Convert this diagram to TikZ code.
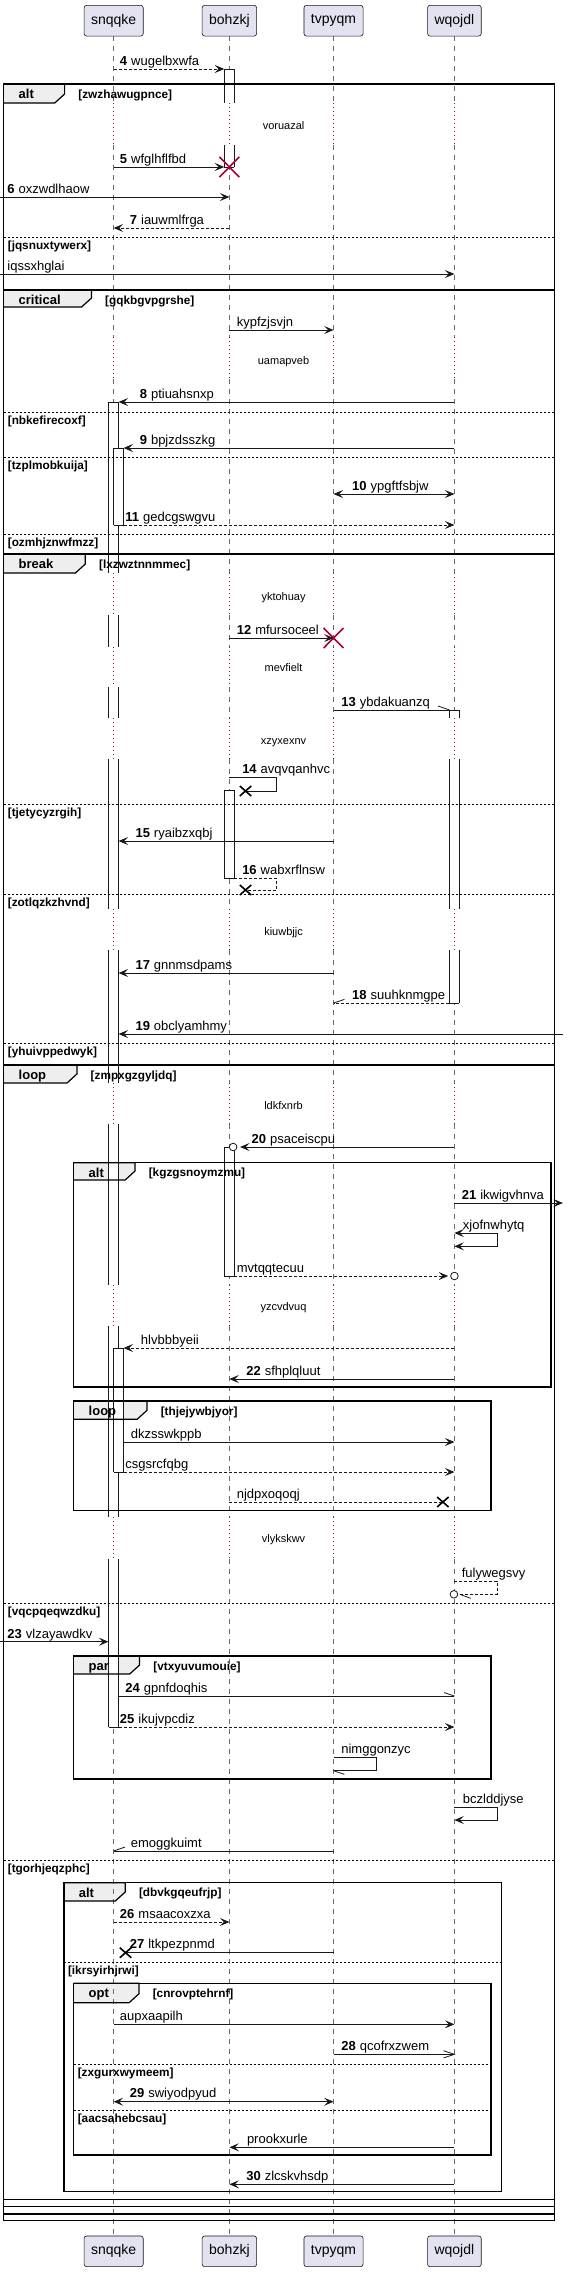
\documentclass[tikz,border=0pt]{standalone}
\usepackage{fontspec}
\setmainfont{Liberation Sans}
\usetikzlibrary{arrows.meta}
\pgfdeclarelayer{back}
\pgfdeclarelayer{tabs}
\pgfsetlayers{back,tabs,main}
\definecolor{pbg}{HTML}{E2E2F0}
\definecolor{ink}{HTML}{181818}
\definecolor{tabbg}{HTML}{EEEEEE}
\definecolor{delayc}{HTML}{8E1538}
\definecolor{xred}{HTML}{A80036}
\definecolor{lifec}{HTML}{6A6A6A}
\newcommand\xS{114.8}
\newcommand\xB{231.7}
\newcommand\xT{336.9}
\newcommand\xW{459}
\newcommand\mnum[1]{\textbf{#1}\hspace{4pt}}
\tikzset{
  part/.style={draw=ink, fill=pbg, rounded corners=2.5pt, minimum height=30.7pt, inner xsep=7pt, inner ysep=0pt, line width=0.6pt, font=\fontsize{14}{16}\selectfont},
  life/.style={draw=lifec, line width=0.6pt, dash pattern=on 5pt off 5pt},
  delayln/.style={draw=delayc, line width=0.7pt, dash pattern=on 1pt off 3pt},
  actln/.style={draw=ink, line width=0.7pt},
  mline/.style={draw=ink, line width=0.8pt},
  arrtip/.style={-{Stealth[length=9.5pt,width=8pt,inset=4pt]}},
  sol/.style={mline, arrtip},
  dsh/.style={mline, arrtip, dash pattern=on 3pt off 2pt},
  dshn/.style={mline, dash pattern=on 3pt off 2pt},
  bidir/.style={mline, {Stealth[length=9.5pt,width=8pt,inset=4pt]}-{Stealth[length=9.5pt,width=8pt,inset=4pt]}},
  lbl/.style={anchor=base west, inner sep=0pt, font=\fontsize{13}{15}\selectfont, text=black},
  cond/.style={anchor=base west, inner sep=0pt, font=\fontsize{11.8}{13}\selectfont\bfseries, text=black},
  tabtxt/.style={anchor=base west, inner sep=0pt, font=\fontsize{13}{15}\selectfont\bfseries, text=black},
  dtxt/.style={anchor=base, inner sep=0pt, font=\fontsize{11}{13}\selectfont, text=black},
  frm/.style={draw=black, line width=1.5pt},
  tabln/.style={draw=black, line width=1.2pt},
  elsel/.style={draw=black, line width=0.8pt, dash pattern=on 2pt off 2pt},
  xmark/.style={draw=black, line width=1.6pt},
  rmark/.style={draw=xred, line width=1.6pt},
  circ/.style={draw=ink, line width=0.8pt, fill=white},
}
\newcommand\smsg[5]{\coordinate (#1a) at (#3,#5);\coordinate (#1b) at (#4,#5);\draw[#2] (#1a) -- (#1b);}
\newcommand\selfm[7]{\coordinate (#1a) at (#3,#5);\coordinate (#1r) at (#4,#5);\coordinate (#1s) at (#4,#6);\coordinate (#1b) at (#7,#6);\draw[#2] (#1a) -- (#1r) -- (#1s) -- (#1b);}
\newcommand\lab[4]{\node[lbl] (#1) at (#2,#3) {#4};}
\newcommand\barb[3]{\draw[mline] (#1) -- ++(#2,#3);}
\newcommand\rx[3]{\coordinate (#1) at (#2,#3);\draw[rmark] ([shift={(-10,-10)}]#1) -- ([shift={(10,10)}]#1) ([shift={(-10,10)}]#1) -- ([shift={(10,-10)}]#1);}
\newcommand\bx[3]{\coordinate (#1) at (#2,#3);\draw[xmark] ([shift={(-5.8,-5)}]#1) -- ([shift={(5.8,5)}]#1) ([shift={(-5.8,5)}]#1) -- ([shift={(5.8,-5)}]#1);}
\newcommand\act[5]{%
  \fill[white] (#1,#2) rectangle (#1+10,#3);
  \draw[actln] (#1,#2) -- (#1,#3) (#1+10,#2) -- (#1+10,#3);
  \ifnum#4=1 \draw[actln] (#1,#2) -- (#1+10,#2);\fi
  \ifnum#5=1 \draw[actln] (#1,#3) -- (#1+10,#3);\fi}
\newcommand\grp[9]{%
  \begin{pgfonlayer}{tabs}\fill[tabbg] (#2,#3) -- (#6,#3) -- (#6,#7-9) -- (#6-10,#7) -- (#2,#7) -- cycle;\end{pgfonlayer}
  \draw[tabln] (#2,#3) -- (#6,#3) -- (#6,#7-9) -- (#6-10,#7) -- (#2,#7);
  \draw[frm] (#2,#3) rectangle (#4,#5);
  \node[tabtxt] (#1t) at (#2+15,#3+14.5) {#8};
  \node[cond] (#1c) at (#6+13.7,#3+14) {[#9]};}
\newcommand\els[5]{\draw[elsel] (#2,#4) -- (#3,#4);\node[cond] (#1) at (#2+4,#4+12) {[#5]};}
\begin{document}
\begin{tikzpicture}[x=0.99pt,y=-1pt]
\begin{pgfonlayer}{back}
\fill[white] (0,0) rectangle (574.75,2273);
\end{pgfonlayer}
\useasboundingbox (0,0) rectangle (574.75,2273);
% lifelines
\foreach \x in {\xS,\xB,\xT,\xW}{
  \foreach \a/\b in {36/103,145/337,379/573,615/647,687/718,759/909,950/1083,1124/1285,1326/1517,1559/2236}
    \draw[life] (\x,\a) -- (\x,\b);
  \foreach \a/\b in {103/145,337/379,573/615,647/687,718/759,909/950,1083/1124,1285/1326,1517/1559}
    \draw[delayln] (\x,\a) -- (\x,\b);
}
% participants
\node[part] (pS) at (\xS,20.7) {snqqke};
\node[part] (pB) at (\xB,20.7) {bohzkj};
\node[part] (pT) at (\xT,20.7) {tvpyqm};
\node[part] (pW) at (\xW,20.7) {wqojdl};
\node[part] (qS) at (\xS,2251.3) {snqqke};
\node[part] (qB) at (\xB,2251.3) {bohzkj};
\node[part] (qT) at (\xT,2251.3) {tvpyqm};
\node[part] (qW) at (\xW,2251.3) {wqojdl};
% activations
\act{226.7}{69}{103}{1}{0}
\act{226.7}{145}{167}{0}{1}
\act{109.8}{402}{573}{1}{0}
\act{109.8}{615}{647}{0}{0}
\act{109.8}{687}{718}{0}{0}
\act{109.8}{759}{909}{0}{0}
\act{109.8}{950}{1083}{0}{0}
\act{109.8}{1124}{1285}{0}{0}
\act{109.8}{1326}{1517}{0}{0}
\act{109.8}{1559}{1727}{0}{1}
\act{114.8}{448}{525}{1}{1}
\act{114.8}{1348}{1472}{1}{1}
\act{454}{710}{718}{1}{0}
\act{454}{759}{909}{0}{0}
\act{454}{950}{1003}{0}{1}
\act{226.7}{790}{878}{1}{1}
\act{226.7}{1147}{1276}{1}{1}
% frames
\grp{f1}{3.7}{84}{560}{2220.7}{65.3}{103}{alt}{zwzhawugpnce}
\els{e1}{3.7}{560}{237}{jqsnuxtywerx}
\grp{f2}{3.7}{290}{560}{2214}{92.4}{307}{critical}{gqkbgvpgrshe}
\els{e2}{3.7}{560}{412}{nbkefirecoxf}
\els{e3}{3.7}{560}{457}{tzplmobkuija}
\els{e4}{3.7}{560}{534}{ozmhjznwfmzz}
\grp{f3}{3.7}{554}{560}{2206.7}{86.2}{573}{break}{lxzwztnnmmec}
\els{e5}{3.7}{560}{804}{tjetycyzrgih}
\els{e6}{3.7}{560}{894}{zotlqzkzhvnd}
\els{e7}{3.7}{560}{1043}{yhuivppedwyk}
\grp{f4}{3.7}{1065}{560}{2199.3}{77.7}{1083}{loop}{zmpxgzgyljdq}
\els{e8}{3.7}{560}{1603}{vqcpqeqwzdku}
\els{e9}{3.7}{560}{1860}{tgorhjeqzphc}
\grp{f5}{74.4}{1162.7}{556.5}{1387}{136.4}{1180}{alt}{kgzgsnoymzmu}
\grp{f6}{74.4}{1401}{496}{1510.7}{148.5}{1419.3}{loop}{thjejywbjyor}
\grp{f7}{74.4}{1656}{496}{1779}{141}{1674}{par}{vtxyuvumouie}
\grp{f8}{64.5}{1882.7}{506.6}{2191.7}{126.5}{1901}{alt}{dbvkgqeufrjp}
\els{e10}{64.5}{506.6}{1962}{ikrsyirhjrwi}
\grp{f9}{74.4}{1983.3}{496}{2155}{140.4}{2002.7}{opt}{cnrovptehrnf}
\els{e11}{74.4}{496}{2064}{zxgurxwymeem}
\els{e12}{74.4}{496}{2110.7}{aacsahebcsau}
% delays
\node[dtxt] (d1) at (286.4,129.3) {voruazal};
\node[dtxt] (d2) at (286.4,364.3) {uamapveb};
\node[dtxt] (d3) at (286.4,600) {yktohuay};
\node[dtxt] (d4) at (286.4,671.7) {mevfielt};
\node[dtxt] (d5) at (286.4,744) {xzyxexnv};
\node[dtxt] (d6) at (286.4,935.7) {kiuwbjjc};
\node[dtxt] (d7) at (286.4,1109) {ldkfxnrb};
\node[dtxt] (d8) at (286.4,1310) {yzcvdvuq};
\node[dtxt] (d9) at (286.4,1542.3) {vlykskwv};
% messages
\smsg{m4}{dsh}{\xS}{226.5}{69}
\lab{l4}{121}{65}{\mnum{4}wugelbxwfa}
\smsg{m5}{sol}{\xS}{226.5}{167}
\rx{x5}{\xB}{167}
\lab{l5}{121}{163}{\mnum{5}wfglhflfbd}
\smsg{m6}{sol}{0}{\xB}{197}
\lab{l6}{7.3}{193}{\mnum{6}oxzwdlhaow}
\smsg{m7}{dsh}{\xB}{\xS}{228}
\lab{l7}{131}{224}{\mnum{7}iauwmlfrga}
\smsg{mi}{sol}{0}{\xW}{274}
\lab{li}{7.3}{270}{iqssxhglai}
\smsg{mk}{sol}{\xB}{\xT}{330}
\lab{lk}{239}{326}{kypfzjsvjn}
\smsg{m8}{sol}{\xW}{119.8}{402}
\lab{l8}{141}{398}{\mnum{8}ptiuahsnxp}
\smsg{m9}{sol}{\xW}{124.8}{448}
\lab{l9}{141}{444}{\mnum{9}bpjzdsszkg}
\smsg{m10}{bidir}{\xT}{\xW}{494}
\lab{l10}{355.6}{490}{\mnum{10}ypgftfsbjw}
\smsg{m11}{dsh}{124.8}{\xW}{525}
\lab{l11}{126.5}{521}{\mnum{11}gedcgswgvu}
\smsg{m12}{sol}{\xB}{\xT}{638}
\rx{x12}{\xT}{638}
\lab{l12}{239}{634}{\mnum{12}mfursoceel}
\smsg{m13}{mline}{\xT}{454}{710}
\barb{m13b}{-11.5}{-4}
\lab{l13}{344.6}{706}{\mnum{13}ybdakuanzq}
\selfm{m14}{mline}{\xB}{279.4}{777}{791}{248}
\bx{x14}{248}{791}
\lab{l14}{244.5}{773}{\mnum{14}avqvqanhvc}
\smsg{m15}{sol}{\xT}{119.8}{841}
\lab{l15}{136.7}{837}{\mnum{15}ryaibzxqbj}
\selfm{m16}{dshn}{236.7}{279.4}{878}{890}{248}
\bx{x16}{248}{890}
\lab{l16}{244.5}{874}{\mnum{16}wabxrflnsw}
\smsg{m17}{sol}{\xT}{119.8}{973}
\lab{l17}{136.7}{969}{\mnum{17}gnnmsdpams}
\smsg{m18}{dshn}{454}{\xT}{1003}
\barb{m18b}{11}{-3.6}
\lab{l18}{355.6}{999}{\mnum{18}suuhknmgpe}
\smsg{m19}{sol}{569}{119.8}{1034}
\lab{l19}{136.7}{1030}{\mnum{19}obclyamhmy}
\smsg{m20}{sol}{\xW}{242.5}{1147}
\coordinate (c20) at (235.5,1147);
\draw[circ] (c20) circle[radius=3.8pt];
\lab{l20}{254}{1143}{\mnum{20}psaceiscpu}
\smsg{m21}{sol}{\xW}{568.5}{1203}
\lab{l21}{466.3}{1199}{\mnum{21}ikwigvhnva}
\selfm{mx}{bidir}{\xW}{502.2}{1233}{1246.3}{\xW}
\lab{lx}{467.4}{1229}{xjofnwhytq}
\smsg{mm}{dsh}{236.7}{452.7}{1276}
\coordinate (cm) at (\xW,1276);
\draw[circ] (cm) circle[radius=3.8pt];
\lab{lm}{239}{1272}{mvtqqtecuu}
\smsg{mh}{dsh}{\xW}{124.8}{1348}
\lab{lh}{142.2}{1344}{hlvbbbyeii}
\smsg{m22}{sol}{\xW}{\xB}{1379}
\lab{l22}{248.6}{1375}{\mnum{22}sfhplqluut}
\smsg{md}{sol}{124.8}{\xW}{1442}
\lab{ld}{132}{1438}{dkzsswkppb}
\smsg{mc}{dsh}{124.8}{\xW}{1472}
\lab{lc}{126.5}{1468}{csgsrcfqbg}
\smsg{mn}{dshn}{\xB}{447.3}{1502}
\bx{xn}{447.3}{1502}
\lab{ln}{239}{1498}{njdpxoqoqj}
\selfm{mf}{dshn}{\xW}{502.2}{1581}{1594.3}{463}
\coordinate (cf) at (458.5,1594.3);
\draw[circ] (cf) circle[radius=3.8pt];
\coordinate (bf) at (464.5,1594.3);
\barb{bf}{11}{4}
\lab{lf}{466.3}{1577}{fulywegsvy}
\smsg{m23}{sol}{0}{109.5}{1641.7}
\lab{l23}{7.3}{1638}{\mnum{23}vlzayawdkv}
\smsg{m24}{mline}{119.8}{\xW}{1696}
\barb{m24b}{-10.5}{-3.5}
\lab{l24}{126.5}{1692}{\mnum{24}gpnfdoqhis}
\smsg{m25}{dsh}{119.8}{\xW}{1727}
\lab{l25}{121}{1723}{\mnum{25}ikujvpcdiz}
\selfm{mg}{mline}{\xT}{380.2}{1757}{1770.7}{\xT}
\barb{mgb}{11}{3.6}
\lab{lg}{344.6}{1753}{nimggonzyc}
\selfm{mb}{sol}{\xW}{502.2}{1807}{1820}{\xW}
\lab{lb}{467.4}{1803}{bczlddjyse}
\smsg{me}{mline}{\xT}{\xS}{1851}
\barb{meb}{11.5}{-4}
\lab{le}{132}{1847}{emoggkuimt}
\smsg{m26}{dsh}{\xS}{\xB}{1922}
\lab{l26}{121}{1918}{\mnum{26}msaacoxzxa}
\smsg{m27}{mline}{\xT}{126.8}{1952.7}
\bx{x27}{126.8}{1952.7}
\lab{l27}{131}{1948.7}{\mnum{27}ltkpezpnmd}
\smsg{ma}{sol}{\xS}{\xW}{2024.3}
\lab{la}{121}{2020.3}{aupxaapilh}
\smsg{m28}{mline}{\xT}{\xW}{2054.3}
\draw[mline] ([shift={(-11,-3.6)}]m28b) -- (m28b) -- ([shift={(-11,3.6)}]m28b);
\lab{l28}{344.6}{2050.3}{\mnum{28}qcofrxzwem}
\smsg{m29}{bidir}{\xS}{\xT}{2101.7}
\lab{l29}{131}{2097.7}{\mnum{29}swiyodpyud}
\smsg{mp}{sol}{\xW}{\xB}{2147.3}
\lab{lp}{249.3}{2143.3}{prookxurle}
\smsg{m30}{sol}{\xW}{\xB}{2184.3}
\lab{l30}{248.6}{2180.3}{\mnum{30}zlcskvhsdp}
\end{tikzpicture}
\end{document}
